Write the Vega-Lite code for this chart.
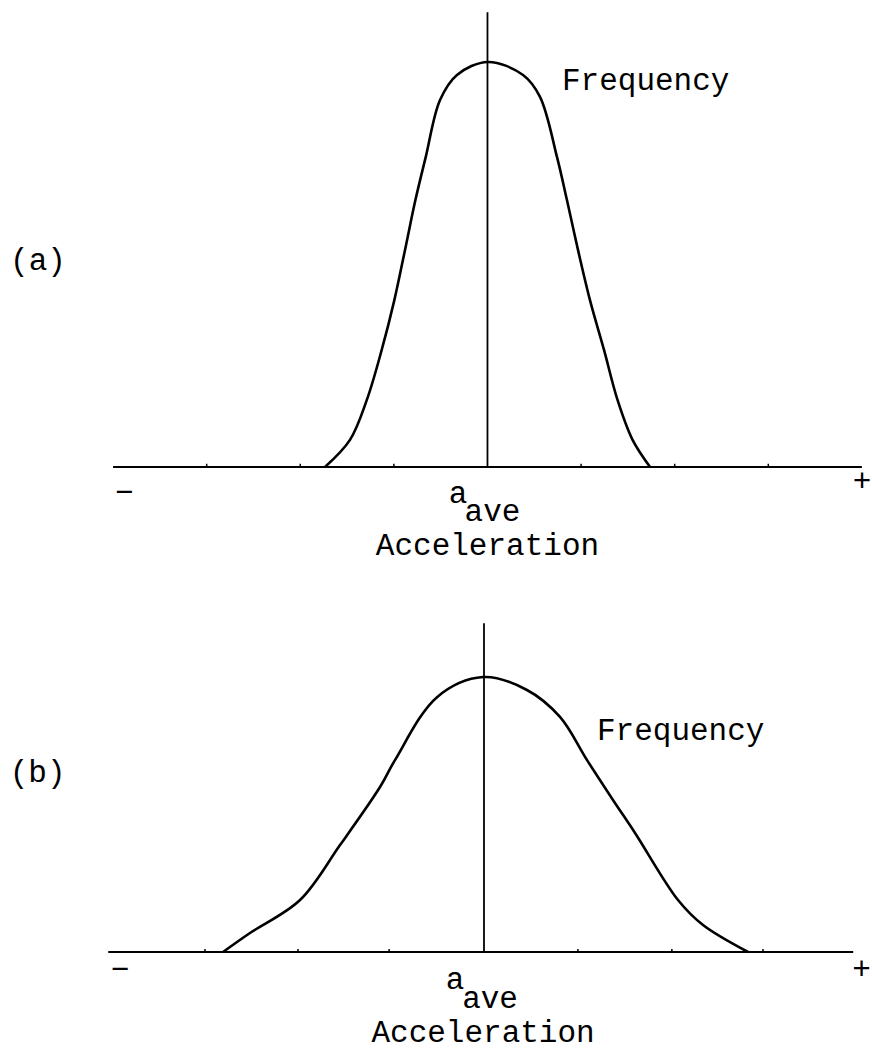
{
  "$schema": "https://vega.github.io/schema/vega-lite/v6.json",
  "padding": 0,
  "spacing": 0,
  "bounds": "flush",
  "background": "white",
  "config": {
    "view": {"stroke": null},
    "axis": {"disable": true},
    "text": {"font": "Liberation Mono", "fontSize": 31, "color": "black"},
    "line": {"color": "black"},
    "rule": {"color": "black"}
  },
  "datasets": {
    "curveA": [
      {"acceleration": -1.736, "frequency": 0},
      {"acceleration": -1.469, "frequency": 6.7},
      {"acceleration": -1.29, "frequency": 16.5},
      {"acceleration": -1.13, "frequency": 28.9},
      {"acceleration": -0.995, "frequency": 41.2},
      {"acceleration": -0.881, "frequency": 53.6},
      {"acceleration": -0.77, "frequency": 65.9},
      {"acceleration": -0.66, "frequency": 76.5},
      {"acceleration": -0.507, "frequency": 90.6},
      {"acceleration": -0.326, "frequency": 96.8},
      {"acceleration": 0.005, "frequency": 100},
      {"acceleration": 0.38, "frequency": 96.8},
      {"acceleration": 0.561, "frequency": 91.4},
      {"acceleration": 0.743, "frequency": 76.5},
      {"acceleration": 0.849, "frequency": 65.9},
      {"acceleration": 0.967, "frequency": 53.6},
      {"acceleration": 1.095, "frequency": 41.2},
      {"acceleration": 1.245, "frequency": 28.9},
      {"acceleration": 1.39, "frequency": 16.5},
      {"acceleration": 1.55, "frequency": 6.7},
      {"acceleration": 1.737, "frequency": 0}
    ],
    "curveB": [
      {"acceleration": -2.806, "frequency": 0},
      {"acceleration": -2.516, "frequency": 6.9},
      {"acceleration": -1.978, "frequency": 18.9},
      {"acceleration": -1.548, "frequency": 38.9},
      {"acceleration": -1.118, "frequency": 60},
      {"acceleration": -0.957, "frequency": 69.8},
      {"acceleration": -0.505, "frequency": 92.7},
      {"acceleration": -0.011, "frequency": 100},
      {"acceleration": 0.462, "frequency": 95.3},
      {"acceleration": 0.817, "frequency": 85.5},
      {"acceleration": 1.108, "frequency": 69.8},
      {"acceleration": 1.387, "frequency": 55.3},
      {"acceleration": 1.624, "frequency": 43.3},
      {"acceleration": 2.086, "frequency": 18.9},
      {"acceleration": 2.355, "frequency": 9.8},
      {"acceleration": 2.839, "frequency": 0}
    ],
    "ticksA": [
      {"pos": -3}, {"pos": -2}, {"pos": -1}, {"pos": 1}, {"pos": 2}, {"pos": 3}
    ],
    "ticksB": [
      {"pos": -3}, {"pos": -2}, {"pos": -1.02}, {"pos": 1.01}, {"pos": 2.02}, {"pos": 3}
    ]
  },
  "vconcat": [
    {
      "width": 872,
      "height": 580,
      "data": {"values": [{}]},
      "layer": [
        {
          "mark": {"type": "rule", "strokeWidth": 2.2},
          "encoding": {
            "x": {"datum": -4.0, "type": "quantitative", "scale": {"domain": [-5.208, 4.108], "nice": false, "zero": false}},
            "x2": {"datum": 4.0},
            "y": {"datum": 0, "type": "quantitative", "scale": {"domain": [-27.9, 115.3], "nice": false, "zero": false}}
          }
        },
        {
          "mark": {"type": "rule", "strokeWidth": 1.8},
          "encoding": {
            "x": {"datum": 0, "type": "quantitative"},
            "y": {"datum": 0, "type": "quantitative"},
            "y2": {"datum": 112.3}
          }
        },
        {
          "data": {"name": "ticksA"},
          "mark": {"type": "rule", "strokeWidth": 1.5},
          "encoding": {
            "x": {"field": "pos", "type": "quantitative"},
            "y": {"datum": 0, "type": "quantitative"},
            "y2": {"datum": 0.8}
          }
        },
        {
          "data": {"name": "curveA"},
          "mark": {"type": "line", "strokeWidth": 2.6, "interpolate": "catmull-rom"},
          "encoding": {
            "x": {"field": "acceleration", "type": "quantitative"},
            "y": {"field": "frequency", "type": "quantitative"}
          }
        },
        {
          "mark": {"type": "text", "text": "Frequency", "align": "left", "baseline": "alphabetic"},
          "encoding": {"x": {"datum": 0.796, "type": "quantitative"}, "y": {"datum": 93.1, "type": "quantitative"}}
        },
        {
          "mark": {"type": "text", "text": "(a)", "align": "left", "baseline": "alphabetic"},
          "encoding": {"x": {"datum": -5.1, "type": "quantitative"}, "y": {"datum": 48.6, "type": "quantitative"}}
        },
        {
          "mark": {"type": "text", "text": "−", "align": "center", "baseline": "middle"},
          "encoding": {"x": {"datum": -3.88, "type": "quantitative"}, "y": {"datum": -6.4, "type": "quantitative"}}
        },
        {
          "mark": {"type": "text", "text": "+", "align": "right", "baseline": "middle"},
          "encoding": {"x": {"datum": 4.1, "type": "quantitative"}, "y": {"datum": -3.7, "type": "quantitative"}}
        },
        {
          "mark": {"type": "text", "text": "a", "align": "left", "baseline": "alphabetic"},
          "encoding": {"x": {"datum": -0.415, "type": "quantitative"}, "y": {"datum": -8.9, "type": "quantitative"}}
        },
        {
          "mark": {"type": "text", "text": "ave", "align": "left", "baseline": "alphabetic"},
          "encoding": {"x": {"datum": -0.245, "type": "quantitative"}, "y": {"datum": -13.4, "type": "quantitative"}}
        },
        {
          "mark": {"type": "text", "text": "Acceleration", "align": "center", "baseline": "alphabetic"},
          "encoding": {"x": {"datum": 0, "type": "quantitative"}, "y": {"datum": -21.7, "type": "quantitative"}}
        }
      ]
    },
    {
      "width": 872,
      "height": 471,
      "data": {"values": [{}]},
      "layer": [
        {
          "mark": {"type": "rule", "strokeWidth": 2.2},
          "encoding": {
            "x": {"datum": -4.04, "type": "quantitative", "scale": {"domain": [-5.204, 4.172], "nice": false, "zero": false}},
            "x2": {"datum": 3.97},
            "y": {"datum": 0, "type": "quantitative", "scale": {"domain": [-36, 135.3], "nice": false, "zero": false}}
          }
        },
        {
          "mark": {"type": "rule", "strokeWidth": 1.8},
          "encoding": {
            "x": {"datum": 0, "type": "quantitative"},
            "y": {"datum": 0, "type": "quantitative"},
            "y2": {"datum": 119.6}
          }
        },
        {
          "data": {"name": "ticksB"},
          "mark": {"type": "rule", "strokeWidth": 1.5},
          "encoding": {
            "x": {"field": "pos", "type": "quantitative"},
            "y": {"datum": 0, "type": "quantitative"},
            "y2": {"datum": 1.1}
          }
        },
        {
          "data": {"name": "curveB"},
          "mark": {"type": "line", "strokeWidth": 2.6, "interpolate": "catmull-rom"},
          "encoding": {
            "x": {"field": "acceleration", "type": "quantitative"},
            "y": {"field": "frequency", "type": "quantitative"}
          }
        },
        {
          "mark": {"type": "text", "text": "Frequency", "align": "left", "baseline": "alphabetic"},
          "encoding": {"x": {"datum": 1.215, "type": "quantitative"}, "y": {"datum": 77.1, "type": "quantitative"}}
        },
        {
          "mark": {"type": "text", "text": "(b)", "align": "left", "baseline": "alphabetic"},
          "encoding": {"x": {"datum": -5.1, "type": "quantitative"}, "y": {"datum": 61.8, "type": "quantitative"}}
        },
        {
          "mark": {"type": "text", "text": "−", "align": "center", "baseline": "middle"},
          "encoding": {"x": {"datum": -3.914, "type": "quantitative"}, "y": {"datum": -6.5, "type": "quantitative"}}
        },
        {
          "mark": {"type": "text", "text": "+", "align": "right", "baseline": "middle"},
          "encoding": {"x": {"datum": 4.16, "type": "quantitative"}, "y": {"datum": -6.5, "type": "quantitative"}}
        },
        {
          "mark": {"type": "text", "text": "a", "align": "left", "baseline": "alphabetic"},
          "encoding": {"x": {"datum": -0.41, "type": "quantitative"}, "y": {"datum": -13.5, "type": "quantitative"}}
        },
        {
          "mark": {"type": "text", "text": "ave", "align": "left", "baseline": "alphabetic"},
          "encoding": {"x": {"datum": -0.235, "type": "quantitative"}, "y": {"datum": -20.4, "type": "quantitative"}}
        },
        {
          "mark": {"type": "text", "text": "Acceleration", "align": "center", "baseline": "alphabetic"},
          "encoding": {"x": {"datum": -0.01, "type": "quantitative"}, "y": {"datum": -32.6, "type": "quantitative"}}
        }
      ]
    }
  ]
}
